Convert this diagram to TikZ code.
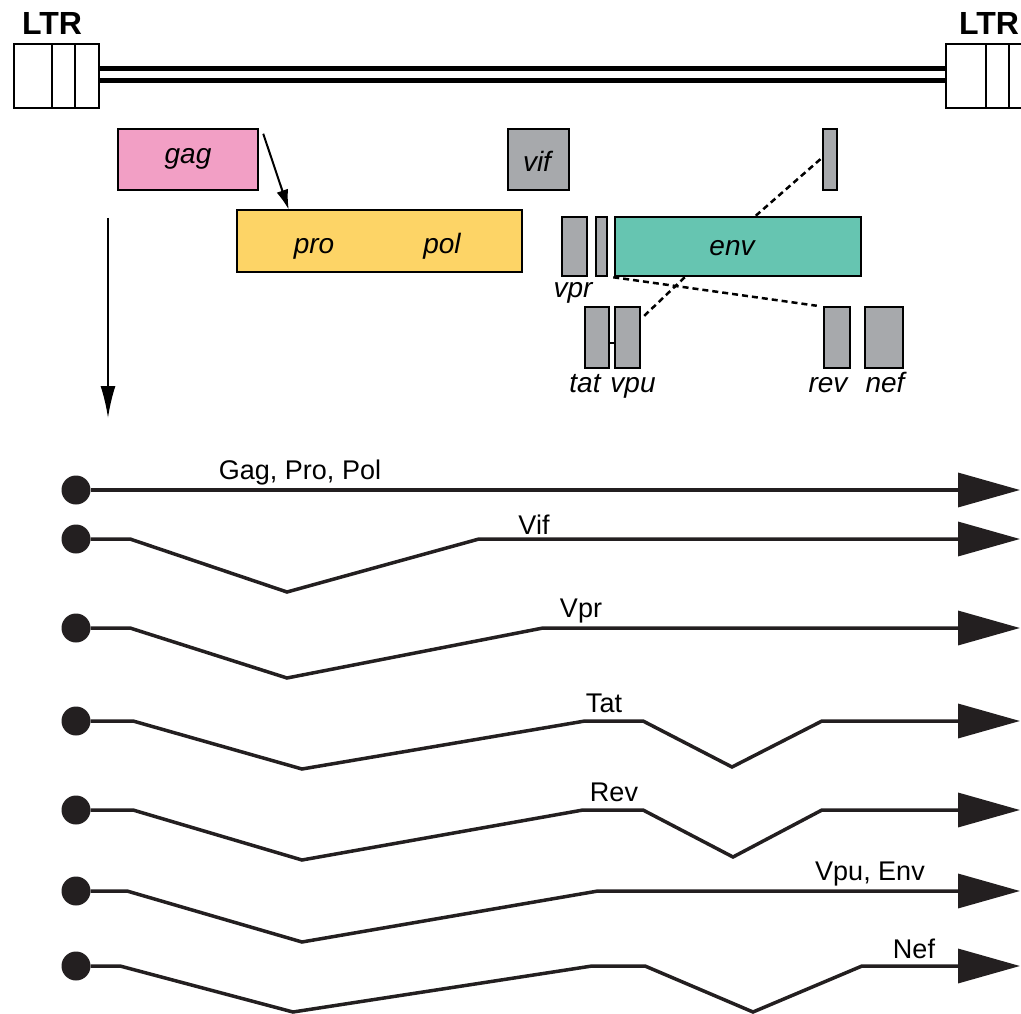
\documentclass[tikz,border=0pt]{standalone}
\usepackage{fontspec}
\setmainfont{Liberation Sans}
\usetikzlibrary{arrows.meta,calc}
\definecolor{gagpink}{HTML}{F29FC5}
\definecolor{polyellow}{HTML}{FDD466}
\definecolor{accgray}{HTML}{A7A9AC}
\definecolor{envteal}{HTML}{66C5B1}
\definecolor{dotblack}{HTML}{231F20}
\begin{document}
\begin{tikzpicture}[x=1pt,y=-1pt,
  box/.style={draw=black, line width=2.5pt, inner sep=0pt, rectangle},
  ltrbox/.style={draw=black, line width=2pt, inner sep=0pt, rectangle, fill=white, minimum width=85pt, minimum height=64pt},
  gl/.style={font=\fontsize{28}{30}\selectfont\itshape, inner sep=0pt, anchor=base},
  tl/.style={font=\fontsize{27}{30}\selectfont, inner sep=0pt, anchor=base},
  ltrl/.style={font=\fontsize{32}{34}\selectfont\bfseries, inner sep=0pt, anchor=base},
  dot/.style={circle, fill=dotblack, inner sep=0pt, minimum size=29pt},
  tr/.style={line width=3.5pt, draw=dotblack, -{Triangle[length=62pt,width=34pt]}, line join=miter},
  dashln/.style={line width=2.5pt, dash pattern=on 6pt off 4pt},
  arr/.style={line width=2pt, -{Latex[length=20pt,width=12pt]}}
]
\useasboundingbox (0,0) rectangle (1021,1014);

% LTRs and genome line
\node[ltrbox] (ltrL) at (56.5,76) {};
\node[ltrbox] (ltrR) at (988.5,76) {};
\draw[line width=2pt] (52,44) -- (52,108) (75,44) -- (75,108);
\draw[line width=2pt] (986,44) -- (986,108) (1009,44) -- (1009,108);
\draw[line width=5pt] (ltrL.east |- 0,69) -- (ltrR.west |- 0,69);
\draw[line width=5pt] (ltrL.east |- 0,80.5) -- (ltrR.west |- 0,80.5);
\node[ltrl] (ltrLt) at (52,35) {LTR};
\node[ltrl] (ltrRt) at (989,35) {LTR};

% gene boxes
\node[box, fill=gagpink, minimum width=140pt, minimum height=61pt] (gag) at (188,159.5) {};
\node[gl] (gagt) at (188,164) {gag};
\node[box, fill=polyellow, minimum width=285pt, minimum height=62pt] (pol) at (379.5,241) {};
\node[gl] (prot) at (314,253) {pro};
\node[gl] (polt) at (442,253) {pol};
\node[box, fill=accgray, minimum width=61pt, minimum height=61pt] (vif) at (538.5,159.5) {};
\node[gl] (vift) at (537,172) {vif};
\node[box, fill=accgray, minimum width=14pt, minimum height=61pt] (sbtop) at (830,159.5) {};
\node[box, fill=accgray, minimum width=25pt, minimum height=59pt] (vpr) at (574.5,246.5) {};
\node[box, fill=accgray, minimum width=11pt, minimum height=59pt] (sbmid) at (601.5,246.5) {};
\node[box, fill=envteal, minimum width=246pt, minimum height=59pt] (env) at (738,246.5) {};
\node[gl] (envt) at (732,255) {env};
\node[gl] (vprt) at (573,297) {vpr};
\node[box, fill=accgray, minimum width=24pt, minimum height=61pt] (tat) at (597,337.5) {};
\node[box, fill=accgray, minimum width=25pt, minimum height=61pt] (vpu) at (627.5,337.5) {};
\node[box, fill=accgray, minimum width=26pt, minimum height=61pt] (rev) at (837,337.5) {};
\node[box, fill=accgray, minimum width=38pt, minimum height=61pt] (nef) at (884,337.5) {};
\draw[line width=2pt] ([yshift=-5.5pt]tat.east) -- ([yshift=-5.5pt]vpu.west);
\node[gl] (tatt) at (585,392) {tat};
\node[gl] (vput) at (633,392) {vpu};
\node[gl] (revt) at (828,392) {rev};
\node[gl] (neft) at (885,392) {nef};

% dashed splice links
\draw[dashln] ([xshift=142pt]env.north west) -- ([yshift=1.5pt]sbtop.west);
\draw[dashln] ([xshift=5pt]sbmid.south east) -- ([xshift=-6pt]rev.north west);
\draw[dashln] ([xshift=71pt]env.south west) -- ([yshift=-11pt,xshift=2pt]vpu.north east);

% arrows
\draw[arr] ([xshift=4pt,yshift=-6pt]gag.north east) -- ([xshift=53pt,yshift=-1pt]pol.north west);
\coordinate (vs) at (108,218);
\coordinate (ve) at (108,418);
\draw[line width=2pt, -{Latex[length=32pt,width=15pt]}] (vs) -- (ve);

% transcripts
\foreach \i/\y in {1/490,2/539,3/628,4/721,5/810,6/891,7/966}{
  \node[dot] (c\i) at (76,\y) {};
  \coordinate (e\i) at (1020,\y);
}
\draw[tr] (c1.east) -- (e1);
\draw[tr] (c2.east) -- (130,539) -- (287,592) -- (479,539) -- (e2);
\draw[tr] (c3.east) -- (130,628) -- (287,678) -- (543,628) -- (e3);
\draw[tr] (c4.east) -- (133,721) -- (302,769) -- (585,721) -- (643,721) -- (732,767) -- (822,721) -- (e4);
\draw[tr] (c5.east) -- (133,810) -- (302,860) -- (583,810) -- (643,810) -- (733,857) -- (822,810) -- (e5);
\draw[tr] (c6.east) -- (127,891) -- (302,942) -- (598,891) -- (e6);
\draw[tr] (c7.east) -- (120,966) -- (293,1012) -- (592,966) -- (645,966) -- (753,1012) -- (862,966) -- (e7);

\node[tl] (l1) at (300,479) {Gag, Pro, Pol};
\node[tl] (l2) at (534,534) {Vif};
\node[tl] (l3) at (581,617) {Vpr};
\node[tl] (l4) at (604,712) {Tat};
\node[tl] (l5) at (614,801) {Rev};
\node[tl] (l6) at (870,880) {Vpu, Env};
\node[tl] (l7) at (914,958) {Nef};
\end{tikzpicture}
\end{document}
